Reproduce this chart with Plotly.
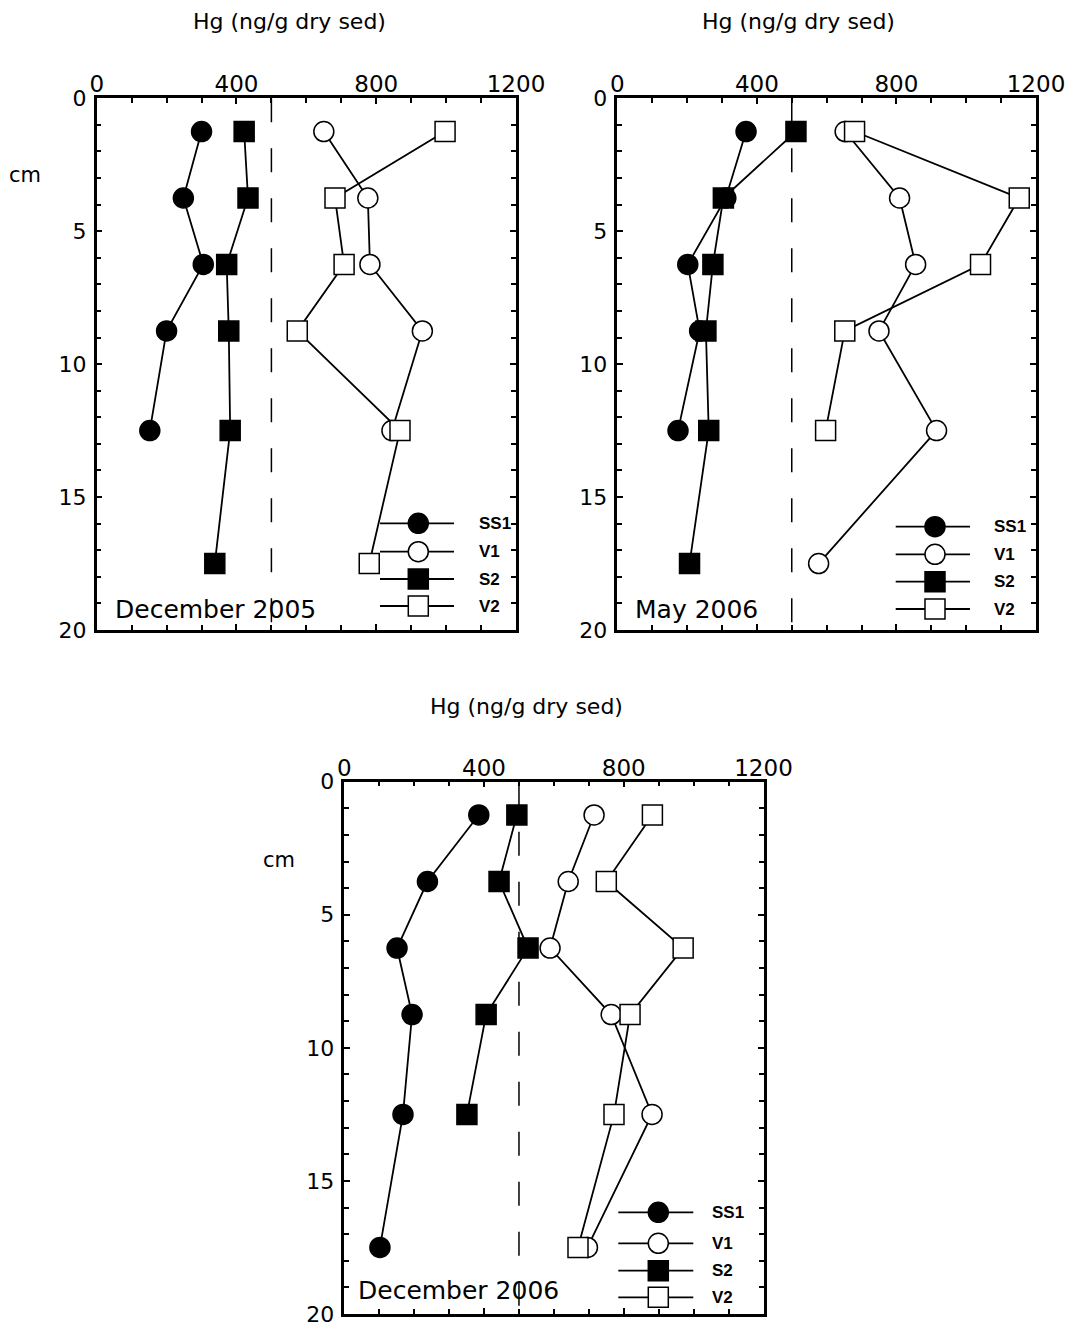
import plotly.graph_objects as go

W, H = 1074, 1331
FONT = "DejaVu Sans"

# Core depths (cm) shared by all sampling campaigns
depth = [1.25, 3.75, 6.25, 8.75, 12.5, 17.5]

# December 2005 profiles, Hg (ng/g dry sediment)
dec05_ss1 = [300, 248, 305, 200, 152]
dec05_v1 = [650, 776, 782, 932, 845]
dec05_s2 = [422, 433, 372, 378, 382, 338]
dec05_v2 = [997, 682, 708, 574, 868, 780]

# May 2006 profiles
may06_ss1 = [369, 311, 202, 236, 174]
may06_v1 = [653, 809, 855, 750, 915, 577]
may06_s2 = [512, 304, 274, 254, 262, 207]
may06_v2 = [680, 1152, 1041, 652, 597]

# December 2006 profiles
dec06_ss1 = [385, 238, 151, 194, 168, 102]
dec06_v1 = [715, 641, 589, 764, 881, 696]
dec06_s2 = [494, 443, 526, 406, 351]
dec06_v2 = [882, 750, 970, 818, 772, 669]

campaigns = ["December 2005", "May 2006", "December 2006"]
series_names = ["SS1", "V1", "S2", "V2"]
x_ticks = [0, 400, 800, 1200]
y_ticks = [0, 5, 10, 15, 20]
threshold = 500  # guideline value (ng/g)

# marker style per station: (symbol, fill)
styles = {
    "SS1": ("circle", "black"),
    "V1": ("circle", "white"),
    "S2": ("square", "black"),
    "V2": ("square", "white"),
}

panel_data = [
    {"SS1": dec05_ss1, "V1": dec05_v1, "S2": dec05_s2, "V2": dec05_v2},
    {"SS1": may06_ss1, "V1": may06_v1, "S2": may06_s2, "V2": may06_v2},
    {"SS1": dec06_ss1, "V1": dec06_v1, "S2": dec06_s2, "V2": dec06_v2},
]

# panel boxes in pixels: left, right, top, bottom
boxes = [
    (96.7, 516.0, 98.3, 630.0),
    (617.3, 1036.0, 98.3, 630.0),
    (344.3, 763.5, 781.7, 1314.0),
]


def px(x):
    return x / W


def py(y):
    return 1 - y / H


fig = go.Figure()

for i, data in enumerate(panel_data):
    k = "" if i == 0 else str(i + 1)
    for name in series_names:
        vals = data[name]
        sym, fill = styles[name]
        fig.add_trace(go.Scatter(
            x=vals, y=depth[:len(vals)],
            mode="lines+markers", name=name, showlegend=False,
            xaxis="x" + k, yaxis="y" + k,
            line=dict(color="black", width=1.8),
            marker=dict(symbol=sym, size=20, color=fill,
                        line=dict(color="black", width=1.5)),
        ))

layout = dict(
    width=W, height=H,
    margin=dict(l=0, r=0, t=0, b=0, autoexpand=False),
    paper_bgcolor="white", plot_bgcolor="white",
    font=dict(family=FONT, color="black"),
    shapes=[], annotations=[],
)

for i, (l, r, t, b) in enumerate(boxes):
    k = "" if i == 0 else str(i + 1)
    layout["xaxis" + k] = dict(
        domain=[px(l), px(r)], range=[0, 1200], side="top",
        anchor="y" + k, tickvals=x_ticks, ticks="inside", ticklen=6,
        tickwidth=1.5, tickcolor="black",
        minor=dict(tickmode="linear", tick0=0, dtick=100, ticks="inside",
                   ticklen=5, tickwidth=1.5, tickcolor="black"),
        showline=True, linewidth=2.5, linecolor="black", mirror="ticks",
        showgrid=False, zeroline=False, automargin=False,
        tickfont=dict(size=23, family=FONT), ticklabelstandoff=-6,
    )
    layout["yaxis" + k] = dict(
        domain=[py(b), py(t)], range=[20, 0],
        anchor="x" + k, tickvals=y_ticks, ticks="inside", ticklen=6,
        tickwidth=1.5, tickcolor="black",
        minor=dict(tickmode="linear", tick0=0, dtick=1, ticks="inside",
                   ticklen=5, tickwidth=1.5, tickcolor="black"),
        showline=True, linewidth=2.5, linecolor="black", mirror="ticks",
        showgrid=False, zeroline=False, automargin=False,
        tickfont=dict(size=22, family=FONT), ticklabelstandoff=3,
    )
    # dashed guideline at the threshold concentration
    layout["shapes"].append(dict(
        type="line", xref="x" + k, yref="y" + k,
        x0=threshold, x1=threshold, y0=0, y1=20,
        line=dict(color="black", width=1.5, dash="24px,26px"),
    ))

# axis titles, depth labels, campaign labels
titles = [(289, 21), (798, 21), (526, 706)]
for (cx, cy) in titles:
    layout["annotations"].append(dict(
        text="Hg (ng/g dry sed)", xref="paper", yref="paper",
        x=px(cx), y=py(cy), xanchor="center", yanchor="middle",
        showarrow=False, font=dict(size=22, family=FONT)))

for (cx, cy) in [(25, 175), (279, 860)]:
    layout["annotations"].append(dict(
        text="cm", xref="paper", yref="paper",
        x=px(cx), y=py(cy), xanchor="center", yanchor="middle",
        showarrow=False, font=dict(size=21, family=FONT)))

for label, (lx, ly) in zip(campaigns, [(113, 610), (633, 610), (356, 1290)]):
    layout["annotations"].append(dict(
        text=label, xref="paper", yref="paper",
        x=px(lx), y=py(ly), xanchor="left", yanchor="middle",
        showarrow=False, font=dict(size=25, family=FONT)))

# in-panel keys: (line start, line end, marker x, text x, row ys)
keys = [
    (380, 454, 418.3, 477, [523.3, 551.7, 579, 606]),
    (895.7, 970, 935, 992, [526.7, 554.3, 581.7, 609]),
    (618.3, 693.3, 658.3, 710, [1212.3, 1243.3, 1270.7, 1297.3]),
]
for (x0, x1, mx, tx, rows) in keys:
    for name, ry in zip(series_names, rows):
        sym, fill = styles[name]
        layout["shapes"].append(dict(
            type="line", xref="paper", yref="paper",
            x0=px(x0), x1=px(x1), y0=py(ry), y1=py(ry),
            line=dict(color="black", width=1.8)))
        layout["shapes"].append(dict(
            type="circle" if sym == "circle" else "rect",
            xref="paper", yref="paper",
            xsizemode="pixel", ysizemode="pixel",
            xanchor=px(mx), yanchor=py(ry),
            x0=-10, x1=10, y0=-10, y1=10,
            fillcolor=fill, line=dict(color="black", width=1.5)))
        layout["annotations"].append(dict(
            text="<b>%s</b>" % name, xref="paper", yref="paper",
            x=px(tx), y=py(ry), xanchor="left", yanchor="middle",
            showarrow=False,
            font=dict(size=17, family="Liberation Sans Narrow, Liberation Sans")))

fig.update_layout(**layout)
fig.write_html("out.html")
